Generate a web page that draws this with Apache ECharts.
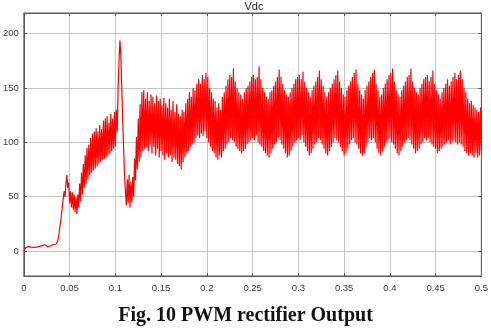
<!DOCTYPE html>
<html>
<head>
<meta charset="utf-8">
<script src="https://cdn.jsdelivr.net/npm/echarts@6/dist/echarts.min.js"></script>
<style>
  html, body { margin: 0; padding: 0; background: #fff; }
  #chart { width: 491px; height: 328px; }
</style>
</head>
<body>
<div id="chart"></div>
<script>
// sample period of the scope trace (s)
var sampleStep = 0.001;

// Vdc, one value per sample, t = 0 ... 0.5 s (10 samples per row)
var vdc = [
    0, 1.5, 3, 3.5, 4, 4, 4, 3.8, 3.6, 3.5,
    3.5, 3.3, 3, 3.2, 3.5, 3.8, 4, 4.3, 4.5, 4.8,
    5, 5.5, 6, 5.8, 5, 4.5, 4, 4, 4.2, 4.6,
    5, 5.5, 6, 6, 6, 6.2, 7, 9, 13, 20,
    26, 33, 40, 48, 55, 50, 62, 70, 58, 63,
    44, 55, 40, 54, 38, 52, 36, 50, 34, 52,
    40, 62, 46, 72, 52, 80, 58, 88, 62, 95,
    66, 98, 70, 104, 72, 108, 74, 110, 76, 113,
    78, 110, 80, 116, 82, 112, 84, 120, 85, 122,
    86, 124, 88, 118, 90, 126, 92, 122, 94, 128,
    96, 130, 110, 150, 175, 194, 180, 150, 120, 95,
    70, 55, 42, 66, 44, 70, 40, 64, 45, 68,
    50, 85, 65, 105, 75, 122, 82, 135, 86, 146,
    92, 148, 94, 140, 96, 146, 92, 138, 98, 144,
    90, 142, 96, 136, 88, 143, 94, 138, 86, 140,
    92, 134, 88, 141, 84, 136, 90, 132, 86, 140,
    88, 130, 82, 138, 86, 128, 84, 135, 80, 126,
    78, 124, 75, 130, 82, 128, 86, 136, 90, 140,
    92, 146, 96, 142, 98, 150, 100, 148, 104, 154,
    106, 158, 104, 154, 108, 162, 106, 158, 110, 164,
    104, 160, 100, 150, 96, 146, 92, 140, 90, 138,
    86, 132, 84, 136, 88, 130, 86, 142, 92, 146,
    94, 152, 98, 158, 100, 162, 104, 160, 102, 168,
    100, 156, 96, 150, 94, 146, 92, 144, 90, 140,
    92, 146, 94, 150, 98, 152, 100, 156, 102, 160,
    104, 162, 102, 158, 106, 160, 100, 170, 98, 158,
    96, 150, 92, 146, 90, 142, 88, 140, 86, 146,
    90, 148, 94, 152, 98, 156, 100, 160, 104, 167,
    102, 160, 98, 154, 94, 148, 90, 144, 86, 142,
    88, 146, 92, 150, 96, 154, 100, 158, 102, 160,
    104, 162, 102, 158, 106, 165, 100, 156, 96, 150,
    92, 146, 88, 142, 90, 148, 94, 152, 98, 156,
    100, 160, 104, 166, 102, 158, 98, 152, 94, 146,
    90, 142, 88, 146, 92, 150, 96, 154, 100, 158,
    104, 162, 102, 166, 100, 156, 96, 150, 92, 144,
    88, 142, 90, 148, 94, 152, 98, 156, 102, 160,
    104, 164, 100, 167, 98, 154, 94, 148, 90, 144,
    88, 140, 90, 148, 96, 152, 100, 156, 104, 160,
    102, 164, 104, 167, 100, 154, 94, 148, 90, 142,
    88, 144, 92, 150, 96, 154, 100, 158, 102, 162,
    104, 164, 100, 168, 98, 156, 94, 148, 90, 144,
    88, 142, 92, 148, 96, 152, 100, 156, 102, 160,
    104, 162, 102, 168, 98, 156, 94, 150, 90, 146,
    92, 144, 94, 150, 98, 154, 100, 158, 104, 160,
    102, 162, 104, 156, 100, 160, 98, 166, 96, 154,
    94, 148, 90, 144, 92, 140, 94, 146, 96, 150,
    98, 154, 100, 158, 102, 152, 98, 156, 100, 160,
    102, 164, 100, 158, 98, 162, 100, 166, 98, 158,
    96, 150, 92, 146, 90, 140, 88, 136, 90, 138,
    88, 134, 86, 132, 90, 130, 86, 128, 88, 132,
    92
];

var yTicks = [0, 50, 100, 150, 200];

function makeOption() {
    var points = vdc.map(function (v, i) {
        return [+(i * sampleStep).toFixed(3), v];
    });
    var gridColor = '#c4c4c4';
    var boxColor = '#5a5a5a';
    var labelStyle = {
        color: '#3a3a3a',
        fontFamily: 'Liberation Sans, Arial, sans-serif',
        fontSize: 9.5
    };
    var option = {
        animation: false,
        title: {
            text: 'Vdc',
            left: 254,
            top: 1,
            padding: 0,
            textAlign: 'center',
            textStyle: {
                fontFamily: 'Liberation Sans, Arial, sans-serif',
                fontSize: 11,
                fontWeight: 'normal',
                color: '#222'
            }
        },
        grid: {
            left: 21,
            right: 3,
            top: 13,
            bottom: 52,
            show: true,
            borderColor: boxColor,
            borderWidth: 1
        },
        xAxis: [{
            type: 'value',
            min: 0,
            max: 0.5,
            interval: 0.05,
            axisLine: { show: true, onZero: false, lineStyle: { color: boxColor } },
            axisTick: { show: true, inside: true, length: 3, lineStyle: { color: boxColor } },
            axisLabel: Object.assign({ margin: 7, showMaxLabel: true }, labelStyle),
            splitLine: { show: true, lineStyle: { color: gridColor, width: 1 } }
        }, {
            type: 'value',
            position: 'top',
            min: 0,
            max: 0.5,
            interval: 0.05,
            axisLine: { show: true, onZero: false, lineStyle: { color: boxColor } },
            axisTick: { show: true, inside: true, length: 3, lineStyle: { color: boxColor } },
            axisLabel: { show: false },
            splitLine: { show: false }
        }],
        yAxis: [{
            type: 'value',
            min: -23,
            max: 219,
            axisLine: { show: true, onZero: false, lineStyle: { color: boxColor } },
            axisTick: { show: true, inside: true, length: 3, customValues: yTicks, lineStyle: { color: boxColor } },
            axisLabel: Object.assign({ margin: 5, customValues: yTicks }, labelStyle),
            splitLine: { show: true, lineStyle: { color: gridColor, width: 1 } }
        }, {
            type: 'value',
            position: 'right',
            min: -23,
            max: 219,
            axisLine: { show: true, onZero: false, lineStyle: { color: boxColor } },
            axisTick: { show: true, inside: true, length: 3, customValues: yTicks, lineStyle: { color: boxColor } },
            axisLabel: { show: false, customValues: yTicks },
            splitLine: { show: false }
        }],
        series: [{
            name: 'Vdc',
            type: 'line',
            xAxisIndex: 0,
            yAxisIndex: 0,
            showSymbol: false,
            lineStyle: { color: '#ff0000', width: 1.2 },
            data: points
        }],
        graphic: [{
            type: 'text',
            left: 'center',
            top: 306,
            style: {
                text: 'Fig. 10 PWM rectifier Output',
                font: 'bold 20px "Liberation Serif", "Times New Roman", serif',
                fill: '#111'
            }
        }]
    };
    return option;
}

function setChart(id, option) {
    var myChart = echarts.init(document.getElementById(id));
    myChart.setOption(option);
}

setChart('chart', makeOption());
</script>
</body>
</html>
